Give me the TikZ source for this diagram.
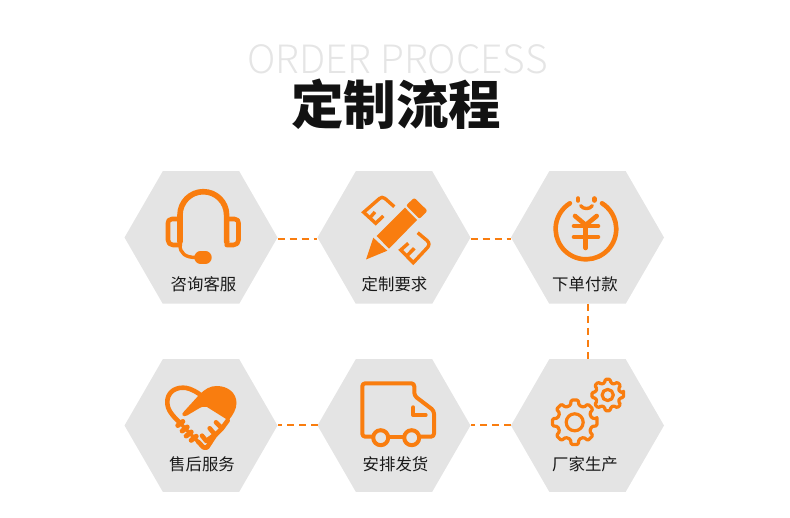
\documentclass[tikz,border=0pt]{standalone}
\usepackage{fontspec}
\usetikzlibrary{shapes.geometric,positioning}
\newfontfamily\cjk{Noto Sans CJK SC}
\newfontfamily\engthin{Noto Sans CJK SC Light}
\definecolor{brandorange}{HTML}{F97D0F}
\definecolor{hexgray}{HTML}{E4E4E4}
\newcommand{\gearicon}[4]{%
\begin{scope}[shift={(#1,#2)}]
\draw[iconline,line width=3.2pt,rounded corners=1.2pt] (-9:#3)
  \foreach \a in {0,45,...,315} {-- (\a-9:#3) -- (\a+9:#3) -- (\a+14:#4) -- (\a+31:#4)} -- cycle;
\end{scope}}
\begin{document}
\begin{tikzpicture}[x=1pt,y=-1pt,
hexbox/.style={regular polygon, regular polygon sides=6, fill=hexgray, minimum size=153pt, inner sep=0pt, outer sep=0pt},
steptext/.style={font=\cjk\fontsize{16.4}{16.4}\selectfont, text=black!90, inner sep=0pt},
flow/.style={brandorange, line width=2pt, dash pattern=on 7pt off 5pt},
iconline/.style={draw=brandorange, line width=4.6pt, line cap=round, line join=round},
iconthin/.style={iconline, line width=3.4pt},
iconfill/.style={fill=brandorange}
]
\useasboundingbox (0,0) rectangle (790,518);
\node[font=\engthin\fontsize{39}{39}\selectfont, text=black!10, inner sep=0pt] (subtitle) at (397.5,59.5) {ORDER PROCESS};
\node[font=\cjk\bfseries\fontsize{52.5}{52.5}\selectfont, text=black!93, inner sep=0pt] (title) at (396,104) {定制流程};
\node[hexbox] (helphex) at (201,237.5) {};
\node[hexbox] (needhex) at (394,237.5) {};
\node[hexbox] (payhex) at (587.5,237.5) {};
\node[hexbox] (makehex) at (587.5,425.5) {};
\node[hexbox] (shiphex) at (394,425.5) {};
\node[hexbox] (carehex) at (201,425.5) {};
\node[steptext] (helptxt) at (203.5,284) {咨询客服};
\node[steptext] (needtxt) at (394.5,284) {定制要求};
\node[steptext] (paytxt) at (585,284) {下单付款};
\node[steptext] (maketxt) at (585,464) {厂家生产};
\node[steptext] (shiptxt) at (395.5,464) {安排发货};
\node[steptext] (caretxt) at (202,464) {售后服务};
\draw[flow] ([yshift=-1.5pt]helphex.east) -- ([yshift=-1.5pt]needhex.west);
\draw[flow] ([yshift=-1.5pt]needhex.east) -- ([yshift=-1.5pt]payhex.west);
\draw[flow] (payhex) -- (makehex);
\draw[flow] (makehex) -- (shiphex);
\draw[flow] (shiphex) -- (carehex);
% headset
\draw[iconline,line width=5.6pt] (180,242) -- (180,215) arc[start angle=180,end angle=360,radius=23.3] -- (226.7,242);
\draw[iconline] (180,219) -- (172,219) .. controls (169,219) and (168,221) .. (168,223) -- (168,240) .. controls (168,243) and (170,245) .. (173,245) -- (180,245);
\draw[iconline] (226.7,219) -- (234.5,219) .. controls (237.5,219) and (238.5,221) .. (238.5,223) -- (238.5,240) .. controls (238.5,243) and (236.5,245) .. (233.5,245) -- (226.7,245);
\draw[iconthin] (180,245) .. controls (180,253) and (185,257.5) .. (196,257.5);
\draw[iconline,line width=12.4pt] (200.5,257.5) -- (205.5,257.5);
% pencil
\fill[iconfill] (405,207.7) -- (417,220) -- (389,248.7) -- (376.7,236) -- cycle;
\fill[iconfill,rounded corners=2pt] (406,205.5) -- (414.3,197.7) -- (427.5,210.7) -- (419.5,219) -- cycle;
\fill[iconfill] (366,259.5) -- (373.3,237.7) -- (387.3,250.7) -- cycle;
\draw[iconthin,line cap=butt,line join=miter] (394.3,206.7) -- (385,198.5) .. controls (383,197) and (381,197) .. (379.5,198.5) -- (363.7,212.3) -- (375.7,223.3) -- (383.3,216);
\draw[iconthin,line cap=butt] (369.7,218) -- (375,212);
\draw[iconthin,line cap=butt,line join=miter] (417.7,232.7) -- (427,240.5) .. controls (429.5,243) and (429.5,245) .. (427.5,247.5) -- (413.3,262.7) -- (400.7,250) -- (408.3,243.3);
\draw[iconthin,line cap=butt] (406.7,256) -- (414.3,248.3);
% yen
\draw[iconline] (602,203.3) arc[start angle=-58,end angle=238,radius=30.3];
\draw[iconline] (578,198.5) -- (578,200.5);
\draw[iconline] (594.3,198.5) -- (594.3,200.5);
\draw[iconthin] (580.7,205.7) .. controls (583,209.5) and (590,209.5) .. (592.3,205.7);
\draw[iconline] (575,216) -- (585.7,225) -- (596.7,216);
\draw[iconline] (574,226) -- (598,226);
\draw[iconline] (574,237) -- (598,237);
\draw[iconline] (585.7,225) -- (585.7,248);
% gears
\gearicon{574.7}{422.3}{22.5}{17.5}
\draw[iconline,line width=3.2pt] (574.7,422.3) circle[radius=8.5];
\gearicon{607.7}{395}{16}{12.5}
\draw[iconline,line width=3.2pt] (607.7,395) circle[radius=5.6];
% truck
\draw[iconline,line width=4pt,rounded corners=3pt] (372,436.7) -- (362.3,436.7) -- (362.3,383.3) -- (414.3,383.3) -- (414.3,395.7) -- (434,410.7) -- (434,436.7) -- (420.5,436.7);
\draw[iconline,line width=4pt] (389,436.7) -- (403,436.7);
\draw[iconline,line width=4pt] (380.7,437.7) circle[radius=7.5];
\draw[iconline,line width=4pt] (411.7,437.7) circle[radius=7.5];
\draw[iconline,line width=4pt] (413.3,407.3) -- (413.3,415) -- (425.7,415);
% handshake
\draw[iconline] (199.3,394) .. controls (192,389) and (187,387.7) .. (183,387.7) .. controls (173,387.7) and (167.3,394) .. (167.3,402) .. controls (167.3,410) and (172,415) .. (180,423);
\fill[iconfill] (184,411.5) -- (199,395) .. controls (205,389) and (210,386) .. (216.7,386) .. controls (228,386) and (236.5,393) .. (236.5,403) .. controls (236.5,409) and (233,415) .. (228.5,420.5) -- (207,407) .. controls (204,406) and (201,407) .. (198,409) -- (187,415.5) .. controls (183,417.5) and (180.5,414.5) .. (184,411.5) -- cycle;
\draw[iconline] (216,422.3) -- (222,428.3) -- (227.7,420.5);
\draw[iconline] (209.7,428.3) -- (215.3,435) -- (222,428.3);
\draw[iconline] (202,435.7) -- (206.3,441) -- (215.3,434.3);
\draw[iconline] (198,441.7) -- (203.7,447.5) -- (207,447.5) -- (215.3,435);
\draw[iconthin] (180,423) -- (198,441.7);
\foreach \kx/\ky in {180.3/423.5,184.7/429,188.7/434,193.7/438.3}
  \draw[iconline,line width=5pt] (\kx-2.5,\ky+2) -- (\kx+2.5,\ky-2);
\end{tikzpicture}
\end{document}
